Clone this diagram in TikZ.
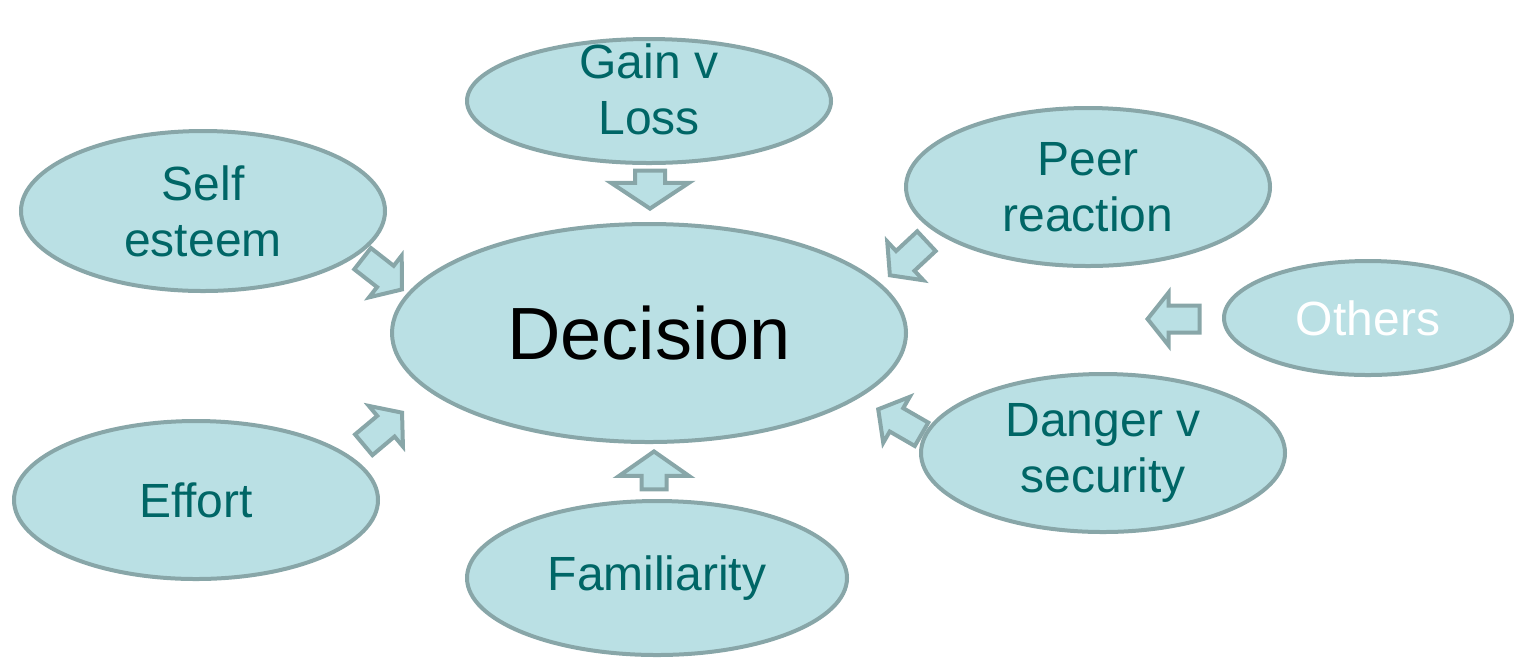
\documentclass[tikz,border=0pt]{standalone}
\usepackage{fontspec}
\setmainfont{Liberation Sans}
\usetikzlibrary{shapes.geometric, shapes.arrows}
\definecolor{bubblefill}{RGB}{186, 224, 228}
\definecolor{bubbleline}{RGB}{136, 166, 168}
\definecolor{bubbletext}{RGB}{0, 102, 102}

\begin{document}
\begin{tikzpicture}[x=0.5pt, y=-0.5pt,
    bubble/.style={ellipse, fill=bubblefill, draw=bubbleline, line width=2pt,
        inner sep=0pt, text=bubbletext, align=center,
        font=\fontsize{24}{28}\selectfont},
    blockarrow/.style={single arrow, fill=bubblefill, draw=bubbleline,
        line width=2pt, inner xsep=0pt, inner ysep=5.75pt, anchor=tip,
        minimum height=25pt, single arrow head extend=6.5pt,
        single arrow tip angle=103}]
    \useasboundingbox (0,0) rectangle (1514,661);
    % bubbles
    \node[bubble, minimum width=182pt, minimum height=62pt] (gain) at (649,101)
        {\smash{\raisebox{-3.5pt}{\begin{tabular}{@{}c@{}}Gain v\\Loss\end{tabular}}}};
    \node[bubble, minimum width=182pt, minimum height=80pt] (self) at (203,211) {Self\\esteem};
    \node[bubble, minimum width=182pt, minimum height=79pt] (peer) at (1088,187) {Peer\\reaction};
    \node[bubble, minimum width=257pt, minimum height=109pt, text=black,
          font=\fontsize{37}{40}\selectfont] (decision) at (649,333) {Decision};
    \node[bubble, minimum width=144pt, minimum height=57pt, text=white] (others) at (1368,318) {Others};
    \node[bubble, minimum width=182pt, minimum height=79pt] (danger) at (1103,453) {Danger v\\security};
    \node[bubble, minimum width=182pt, minimum height=79pt] (effort) at (196,500) {Effort};
    \node[bubble, minimum width=190pt, minimum height=77pt] (familiar) at (657,578) {Familiarity};
    % arrows
    \node[blockarrow, rotate=-90, minimum height=19pt, inner ysep=6.5pt,
          single arrow head extend=12pt, single arrow tip angle=113] (gainarrow) at (650,211) {};
    \node[blockarrow, rotate=90, minimum height=19pt, inner ysep=5.25pt,
          single arrow head extend=11.25pt, single arrow tip angle=110] (familiararrow) at (654,449) {};
    \node[blockarrow, rotate=-38] (selfarrow) at (404,291) {};
    \node[blockarrow, rotate=-137] (peerarrow) at (888,277) {};
    \node[blockarrow, rotate=180, minimum height=26pt] (othersarrow) at (1145,319) {};
    \node[blockarrow, rotate=150] (dangerarrow) at (876,408) {};
    \node[blockarrow, rotate=40] (effortarrow) at (404,411) {};
\end{tikzpicture}
\end{document}
